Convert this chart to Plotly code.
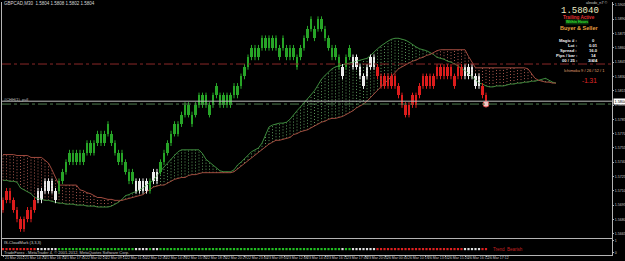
import plotly.graph_objects as go

# ---------------- data ----------------
SYMBOL_LINE = "GBPCAD,M30  1.5804 1.5808 1.5802 1.5804"
BRICK = 0.0010
WICK = 0.0003
LAST_PRICE = 1.5804
ORDER_PRICE = 1.5801
LEVEL_LINE = 1.5843

# bottom of each renko brick (price)
body_lo = [
    1.5690, 1.5700, 1.5700, 1.5690, 1.5680, 1.5670, 1.5670, 1.5680, 1.5680, 1.5690,
    1.5700, 1.5700, 1.5710, 1.5710, 1.5710, 1.5700, 1.5710, 1.5720, 1.5730, 1.5740,
    1.5740, 1.5740, 1.5740, 1.5740, 1.5750, 1.5750, 1.5750, 1.5760, 1.5760, 1.5760,
    1.5770, 1.5760, 1.5750, 1.5740, 1.5740, 1.5730, 1.5720, 1.5720, 1.5710, 1.5710,
    1.5710, 1.5710, 1.5710, 1.5720, 1.5720, 1.5730, 1.5740, 1.5750, 1.5760, 1.5770,
    1.5770, 1.5780, 1.5790, 1.5790, 1.5780, 1.5790, 1.5800, 1.5800, 1.5800, 1.5790,
    1.5800, 1.5810, 1.5800, 1.5800, 1.5800, 1.5800, 1.5810, 1.5810, 1.5820, 1.5830,
    1.5840, 1.5850, 1.5850, 1.5850, 1.5860, 1.5860, 1.5860, 1.5860, 1.5860, 1.5850,
    1.5860, 1.5850, 1.5850, 1.5850, 1.5840, 1.5850, 1.5860, 1.5870, 1.5880, 1.5870,
    1.5880, 1.5880, 1.5870, 1.5860, 1.5850, 1.5850, 1.5840, 1.5830, 1.5840, 1.5850,
    1.5840, 1.5840, 1.5830, 1.5820, 1.5830, 1.5840, 1.5840, 1.5830, 1.5820, 1.5820,
    1.5820, 1.5820, 1.5820, 1.5810, 1.5800, 1.5790, 1.5790, 1.5800, 1.5800, 1.5810,
    1.5820, 1.5820, 1.5820, 1.5820, 1.5830, 1.5830, 1.5830, 1.5830, 1.5830, 1.5820,
    1.5830, 1.5830, 1.5830, 1.5830, 1.5830, 1.5820, 1.5820, 1.5810, 1.5800,
]
# trend state of each brick: G = up, W = neutral, R = down
trend = list(
    "RRRRRRRRRR" "WWWWWW" "GGGGGGGGGGGGGGGGGGGGGG" "WWWW" "G" "WW"
    "GGGGGGGGGGGGGGGGGGGGGGGGGGGGGGGGGGGGGGGGGGGGGGGGGGGG" "W" "GG" "WWWWWWW"
    "RRRRRRRRRRRRRRRRRRRRRRRRR" "WWWWW" "RR"
)

span_a = [
    1.5721, 1.5721, 1.5720, 1.5720, 1.5719, 1.5713, 1.5711, 1.5709, 1.5707, 1.5703,
    1.5702, 1.5701, 1.5700, 1.5700, 1.5699, 1.5698, 1.5697, 1.5697, 1.5696, 1.5696,
    1.5696, 1.5695, 1.5695, 1.5695, 1.5694, 1.5694, 1.5694, 1.5693, 1.5693, 1.5693,
    1.5693, 1.5694, 1.5696, 1.5698, 1.5701, 1.5705, 1.5706, 1.5708, 1.5709, 1.5711,
    1.5713, 1.5716, 1.5719, 1.5721, 1.5726, 1.5731, 1.5735, 1.5739, 1.5743, 1.5748,
    1.5751, 1.5753, 1.5753, 1.5753, 1.5753, 1.5753, 1.5753, 1.5749, 1.5743, 1.5740,
    1.5737, 1.5734, 1.5731, 1.5730, 1.5730, 1.5730, 1.5732, 1.5737, 1.5740, 1.5744,
    1.5748, 1.5751, 1.5753, 1.5755, 1.5760, 1.5769, 1.5777, 1.5779, 1.5780, 1.5781,
    1.5781, 1.5782, 1.5785, 1.5790, 1.5794, 1.5798, 1.5802, 1.5806, 1.5810, 1.5815,
    1.5821, 1.5827, 1.5831, 1.5835, 1.5838, 1.5840, 1.5841, 1.5842, 1.5843, 1.5844,
    1.5845, 1.5846, 1.5847, 1.5848, 1.5849, 1.5852, 1.5856, 1.5859, 1.5862, 1.5865,
    1.5867, 1.5869, 1.5870, 1.5870, 1.5869, 1.5868, 1.5866, 1.5863, 1.5861, 1.5859,
    1.5858, 1.5857, 1.5855, 1.5853, 1.5850, 1.5849, 1.5848, 1.5846, 1.5845, 1.5843,
    1.5841, 1.5838, 1.5836, 1.5833, 1.5830, 1.5826, 1.5823, 1.5822, 1.5820, 1.5819,
    1.5819, 1.5820, 1.5820, 1.5820, 1.5821, 1.5822, 1.5822, 1.5823, 1.5823, 1.5824,
    1.5824, 1.5825, 1.5825, 1.5826, 1.5827, 1.5828, 1.5826, 1.5824, 1.5823,
]
span_b = [
    1.5748, 1.5748, 1.5748, 1.5748, 1.5747, 1.5747, 1.5747, 1.5747, 1.5745, 1.5745,
    1.5745, 1.5745, 1.5742, 1.5739, 1.5732, 1.5723, 1.5716, 1.5716, 1.5716, 1.5716,
    1.5716, 1.5716, 1.5711, 1.5710, 1.5708, 1.5707, 1.5705, 1.5703, 1.5703, 1.5702,
    1.5701, 1.5701, 1.5700, 1.5700, 1.5700, 1.5701, 1.5702, 1.5703, 1.5704, 1.5705,
    1.5706, 1.5709, 1.5712, 1.5714, 1.5715, 1.5716, 1.5716, 1.5718, 1.5720, 1.5722,
    1.5723, 1.5724, 1.5724, 1.5726, 1.5727, 1.5727, 1.5728, 1.5729, 1.5729, 1.5729,
    1.5729, 1.5729, 1.5729, 1.5729, 1.5729, 1.5729, 1.5730, 1.5733, 1.5736, 1.5739,
    1.5742, 1.5745, 1.5748, 1.5751, 1.5753, 1.5756, 1.5759, 1.5761, 1.5763, 1.5763,
    1.5764, 1.5765, 1.5766, 1.5769, 1.5770, 1.5772, 1.5773, 1.5774, 1.5776, 1.5778,
    1.5780, 1.5782, 1.5783, 1.5785, 1.5786, 1.5786, 1.5787, 1.5788, 1.5790, 1.5792,
    1.5794, 1.5797, 1.5799, 1.5801, 1.5804, 1.5808, 1.5812, 1.5816, 1.5819, 1.5823,
    1.5826, 1.5830, 1.5835, 1.5838, 1.5840, 1.5842, 1.5844, 1.5846, 1.5847, 1.5849,
    1.5850, 1.5852, 1.5853, 1.5855, 1.5857, 1.5858, 1.5858, 1.5858, 1.5858, 1.5858,
    1.5858, 1.5858, 1.5858, 1.5851, 1.5845, 1.5839, 1.5839, 1.5839, 1.5839, 1.5839,
    1.5839, 1.5839, 1.5839, 1.5839, 1.5839, 1.5839, 1.5839, 1.5839, 1.5839, 1.5839,
    1.5838, 1.5833, 1.5828, 1.5826, 1.5825, 1.5824, 1.5824, 1.5823, 1.5823,
]

price_ticks = [1.5665, 1.5680, 1.5695, 1.5710, 1.5725, 1.5740, 1.5755, 1.5770,
               1.5785, 1.5800, 1.5815, 1.5830, 1.5845, 1.5860, 1.5875, 1.5890, 1.5905]
date_labels = [
    "21 Mar 2012", "21 Mar 14:20", "21 Mar 16:10", "21 Mar 17:44", "22 Mar 02:24",
    "22 Mar 09:11", "22 Mar 11:00", "22 Mar 12:40", "22 Mar 14:09", "22 Mar 15:56",
    "22 Mar 18:16", "22 Mar 20:29", "22 Mar 23:40", "23 Mar 09:05", "23 Mar 12:48",
    "23 Mar 14:47", "23 Mar 16:11", "23 Mar 17:48", "23 Mar 20:01", "26 Mar 00:44",
    "26 Mar 10:19", "26 Mar 13:01", "26 Mar 15:20", "26 Mar 16:12", "26 Mar 17:12",
]
info_labels = ["Magic # :", "Lot :", "Spread :", "Pips / bar :", "00 / 25 :"]
info_values = ["0", "0.01", "16.0", "14", "3/4/4"]

# ---------------- styling ----------------
W, H = 625, 261
ML, MR, MT, MB = 2, 13, 2, 6
PW, PH = W - ML - MR, H - MT - MB
PLOT_BOTTOM = H - MB
FRAME = "#b4b4b4"
BAR_COL = {"G": "#27a427", "W": "#ececec", "R": "#dc1c1c"}
DOT_COL = {"G": "#22c022", "W": "#e0e0e0", "R": "#e02020"}
SPLIT = (PLOT_BOTTOM - 238) / PH
Y_TOP_PX, Y_BOT_PX = 2, 238
# main price scale: 1.5804 at pixel 101.2, 0.0015 per 14.3 px
PX_PER_PRICE = 14.3 / 0.0015
Y_MAX = 1.5804 + (101.2 - Y_TOP_PX) / PX_PER_PRICE
Y_MIN = 1.5804 - (Y_BOT_PX - 101.2) / PX_PER_PRICE
DATE_POS = [k * 5.75 for k in range(len(date_labels))]

n = len(body_lo)
idx = list(range(n))
lows = body_lo[:-1] + [LAST_PRICE]
highs = [lo + BRICK for lo in body_lo]

fig = go.Figure()

# Ichimoku cloud hatch (vertical dotted lines)
gx, gy, rx, ry = [], [], [], []
for i, (a, b) in enumerate(zip(span_a, span_b)):
    if a >= b:
        gx += [i, i, None]; gy += [b, a, None]
    else:
        rx += [i, i, None]; ry += [a, b, None]
fig.add_trace(go.Scatter(x=gx, y=gy, mode="lines", hoverinfo="skip",
                         line=dict(color="#5c9a5c", width=1, dash="1px,2px")))
fig.add_trace(go.Scatter(x=rx, y=ry, mode="lines", hoverinfo="skip",
                         line=dict(color="#a85a50", width=1, dash="1px,2px")))
ci = list(range(len(span_a)))
fig.add_trace(go.Scatter(x=ci, y=span_a, mode="lines", line=dict(color="#3d8a3d", width=1)))
fig.add_trace(go.Scatter(x=ci, y=span_b, mode="lines", line=dict(color="#a04a3e", width=1)))

# wicks
for key in ("G", "W", "R"):
    wx, wy = [], []
    for i in idx:
        if trend[i] == key:
            wx += [i, i, None]
            wy += [lows[i] - WICK, highs[i] + WICK, None]
    fig.add_trace(go.Scatter(x=wx, y=wy, mode="lines", hoverinfo="skip",
                             line=dict(color=BAR_COL[key], width=1)))

# brick bodies
fig.add_trace(go.Bar(x=idx, y=[h - l for h, l in zip(highs, lows)], base=lows,
                     width=0.8, marker=dict(color=[BAR_COL[t] for t in trend], line=dict(width=0))))

# order marker
fig.add_trace(go.Scatter(x=[n - 1], y=[ORDER_PRICE], mode="markers",
                         marker=dict(symbol="circle", size=6, color="#f2c4c4",
                                     line=dict(color="#e04848", width=1))))

# indicator dots
fig.add_trace(go.Scatter(x=idx, y=[0.3] * n, mode="markers", xaxis="x2", yaxis="y2",
                         marker=dict(symbol="square", size=2.2,
                                     color=[DOT_COL[t] for t in trend])))

shapes = [
    dict(type="line", xref="paper", yref="y", x0=0, x1=1, y0=LEVEL_LINE, y1=LEVEL_LINE,
         line=dict(color="#8a2828", width=1, dash="dashdot"), layer="above"),
    dict(type="line", xref="paper", yref="y", x0=0, x1=1, y0=LAST_PRICE, y1=LAST_PRICE,
         line=dict(color="#bdbdbd", width=1), layer="above"),
    dict(type="line", xref="paper", yref="y", x0=0, x1=1, y0=ORDER_PRICE, y1=ORDER_PRICE,
         line=dict(color="#4e7a4e", width=1, dash="dashdot"), layer="above"),
]


def ann(x, y, text, color, size, anchor="left", family="Liberation Sans", bold=False, bg=None):
    d = dict(xref="paper", yref="paper", x=(x - ML) / PW, y=(PLOT_BOTTOM - y) / PH,
             text=f"<b>{text}</b>" if bold else text, showarrow=False,
             xanchor=anchor, yanchor="middle", borderpad=0,
             font=dict(color=color, size=size, family=family))
    if bg:
        d["bgcolor"] = bg
    return d


annotations = [
    ann(3, 4, SYMBOL_LINE, "#d8d8d8", 4.5),
    ann(609, 3, "alexdo_n7 ©", "#c8c8c8", 3.8, anchor="right"),
    ann(580, 10.5, "1.58040", "#eeeec4", 9, anchor="center", family="Liberation Mono"),
    ann(579, 18, "Trailing Active", "#e03030", 4.6, anchor="center", bold=True),
    ann(577, 22.5, "Within Hours", "#33e033", 3.6, anchor="center", bold=True, bg="#0c3a0c"),
    ann(579, 28.5, "Buyer & Seller", "#e8a040", 5.5, anchor="center", bold=True),
    ann(584, 70.5, "Ichimoku 9 / 26 / 52 / 1", "#e0a070", 4, anchor="center"),
    ann(589, 80.5, "-1.31", "#e02828", 6.5, anchor="center"),
    ann(3, 99.5, "#CHH(1)_pull", "#b8b8b8", 4),
    ann(3, 242.5, "IS-CloudMark (3,3,3)", "#d0d0d0", 4),
    ann(3, 252.5, "TradeForex - MetaTrader 4, © 2001-2012, MetaQuotes Software Corp.", "#c8c8c8", 4),
    ann(492, 249.5, "Trend  Bearish", "#c42020", 4.5),
    dict(xref="paper", yref="y", x=1 + 1 / PW, y=LAST_PRICE, text="1.5804", showarrow=False,
         xanchor="left", yanchor="middle", bgcolor="#ffffff", borderpad=0.5,
         font=dict(color="#000000", size=3.8, family="Liberation Sans")),
]
for k, (lab, val) in enumerate(zip(info_labels, info_values)):
    yy = 40 + 5.1 * k
    annotations.append(ann(578, yy, lab, "#f0f0f0", 4.2, anchor="right", bold=True))
    annotations.append(ann(593, yy, val, "#f0f0f0", 4.2, anchor="center", bold=True))
# time-axis labels, left-aligned at their tick as in MetaTrader
for pos, lab in zip(DATE_POS, date_labels):
    annotations.append(dict(xref="x2", yref="paper", x=pos, y=(PLOT_BOTTOM - 257.8) / PH,
                            text=lab, showarrow=False, xanchor="left", yanchor="middle",
                            xshift=1, borderpad=0,
                            font=dict(color="#c8c8c8", size=3.5, family="Liberation Sans")))

axis_common = dict(showgrid=False, zeroline=False, showline=True, linecolor=FRAME,
                   linewidth=1, automargin=False)

fig.update_layout(
    template="none",
    width=W, height=H,
    margin=dict(l=ML, r=MR, t=MT, b=MB, pad=0),
    paper_bgcolor="#000000", plot_bgcolor="#000000",
    showlegend=False, barmode="overlay", bargap=0,
    shapes=shapes, annotations=annotations,
    xaxis=dict(domain=[0, 1], range=[-0.29, 174], anchor="y", showticklabels=False,
               ticks="", **axis_common),
    yaxis=dict(domain=[SPLIT, 1], range=[Y_MIN, Y_MAX], side="right", anchor="x",
               tickvals=price_ticks, ticktext=[f"{p:.4f}" for p in price_ticks],
               ticks="outside", ticklen=1, tickcolor=FRAME, mirror=True,
               tickfont=dict(size=3.6, color="#c8c8c8", family="Liberation Sans"), **axis_common),
    xaxis2=dict(domain=[0, 1], anchor="y2", matches="x", tickvals=DATE_POS,
                showticklabels=False, ticks="outside", ticklen=1, tickcolor=FRAME,
                **axis_common),
    yaxis2=dict(domain=[0, SPLIT], range=[-0.18, 1.2], side="right", anchor="x2",
                tickvals=[0, 1], ticktext=["0", "1"], ticks="outside", ticklen=1,
                tickcolor=FRAME, mirror=True,
                tickfont=dict(size=3.6, color="#c8c8c8", family="Liberation Sans"), **axis_common),
)

fig.write_html("out.html", config={"displayModeBar": False})
